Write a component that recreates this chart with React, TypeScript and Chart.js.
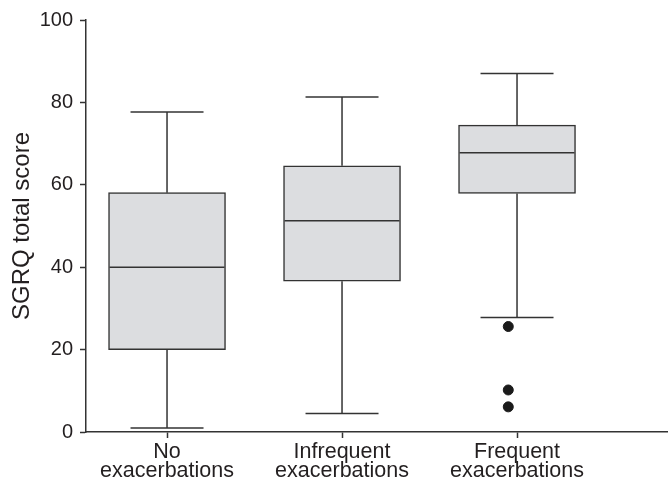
import React, { useEffect, useRef } from "react";
import { Chart, registerables } from "chart.js";

Chart.register(...registerables);

// ---- data ----
const categories: string[][] = [
  ["No", "exacerbations"],
  ["Infrequent", "exacerbations"],
  ["Frequent", "exacerbations"],
];
const positions = [1, 2, 3];
const whiskerLow = [1.0, 4.5, 27.8];
const q1 = [20.0, 36.6, 57.9];
const median = [40.0, 51.3, 67.8];
const q3 = [58.1, 64.6, 74.5];
const whiskerHigh = [77.7, 81.3, 87.0];
const outlierX = [2.95, 2.95, 2.95];
const outlierY = [25.6, 10.2, 6.1];
const yMin = 0;
const yMax = 100;
const yStep = 20;
const xMin = 0.537;
const xMax = 3.857;

// ---- styles ----
const LINE = "#333333";
const TEXT = "#231f20";
const BOX_FILL = "#dcdde0";
const BOX_W = 117;
const CAP_W = 73;
const FONT = "'Liberation Sans', Arial, Helvetica, sans-serif";

const boxPlugin = {
  id: "boxWhiskers",
  afterDatasetsDraw(chart: any) {
    const { ctx, scales } = chart;
    const x = scales.x;
    const y = scales.y;
    ctx.save();
    ctx.strokeStyle = LINE;
    ctx.lineWidth = 1.5;
    const seg = (x1: number, y1: number, x2: number, y2: number) => {
      ctx.beginPath();
      ctx.moveTo(x1, y1);
      ctx.lineTo(x2, y2);
      ctx.stroke();
    };
    positions.forEach((p, i) => {
      const cx = x.getPixelForValue(p);
      const yHi = y.getPixelForValue(whiskerHigh[i]);
      const yLo = y.getPixelForValue(whiskerLow[i]);
      const yQ1 = y.getPixelForValue(q1[i]);
      const yQ3 = y.getPixelForValue(q3[i]);
      const yMed = y.getPixelForValue(median[i]);
      seg(cx, yQ3, cx, yHi);
      seg(cx - CAP_W / 2, yHi, cx + CAP_W / 2, yHi);
      seg(cx, yQ1, cx, yLo);
      seg(cx - CAP_W / 2, yLo, cx + CAP_W / 2, yLo);
      seg(cx - BOX_W / 2 + 1, yMed, cx + BOX_W / 2 - 1, yMed);
    });
    ctx.restore();
  },
};

export default function App() {
  const ref = useRef<HTMLCanvasElement>(null);
  useEffect(() => {
    document.body.style.margin = "0";
    const canvas = ref.current;
    if (!canvas) return;
    const chart = new Chart(canvas, {
      type: "bar",
      data: {
        datasets: [
          {
            type: "bar",
            data: positions.map((p, i) => ({ x: p, y: [q1[i], q3[i]] })) as any,
            backgroundColor: BOX_FILL,
            borderColor: LINE,
            borderWidth: 1.5,
            borderSkipped: false,
            barThickness: BOX_W,
            order: 2,
          } as any,
          {
            type: "scatter",
            data: outlierX.map((xv, i) => ({ x: xv, y: outlierY[i] })),
            backgroundColor: "#1a1a1a",
            borderColor: "#1a1a1a",
            pointRadius: 5,
            pointHoverRadius: 5,
            showLine: false,
            order: 1,
          } as any,
        ],
      },
      options: {
        animation: false,
        responsive: false,
        events: [],
        layout: { autoPadding: false, padding: { top: 20, right: 1, bottom: 0, left: 0 } } as any,
        plugins: {
          legend: { display: false },
          tooltip: { enabled: false },
        },
        scales: {
          x: {
            type: "linear",
            min: xMin,
            max: xMax,
            offset: false,
            afterBuildTicks: (s: any) => {
              s.ticks = positions.map((v) => ({ value: v }));
            },
            afterFit: (s: any) => {
              s.height = 49;
              s.paddingLeft = 0;
              s.paddingRight = 0;
            },
            ticks: {
              autoSkip: false,
              maxRotation: 0,
              minRotation: 0,
              padding: 5,
              color: TEXT,
              font: { family: FONT, size: 21.5, lineHeight: "19px" } as any,
              callback: (v: any) => {
                const idx = positions.indexOf(Number(v));
                return idx >= 0 ? categories[idx] : "";
              },
            },
            grid: {
              display: true,
              offset: false,
              drawOnChartArea: false,
              drawTicks: true,
              tickLength: 6,
              tickColor: LINE,
              tickWidth: 1.5,
            },
            border: { display: true, color: LINE, width: 1.5 },
          } as any,
          y: {
            type: "linear",
            min: yMin,
            max: yMax,
            afterFit: (s: any) => {
              s.width = 86;
            },
            ticks: {
              stepSize: yStep,
              padding: 7,
              color: TEXT,
              font: { family: FONT, size: 20 },
            },
            grid: {
              display: true,
              drawOnChartArea: false,
              drawTicks: true,
              tickLength: 6,
              tickColor: LINE,
              tickWidth: 1.5,
            },
            border: { display: true, color: LINE, width: 1.5 },
            title: {
              display: true,
              text: "SGRQ total score",
              color: TEXT,
              font: { family: FONT, size: 24, lineHeight: 1 },
              padding: { top: 10, bottom: 0 },
            },
          } as any,
        },
      },
      plugins: [boxPlugin],
    });
    return () => chart.destroy();
  }, []);
  return (
    <div style={{ width: 668, height: 481 }}>
      <canvas ref={ref} width={668} height={481} style={{ display: "block" }} />
    </div>
  );
}
